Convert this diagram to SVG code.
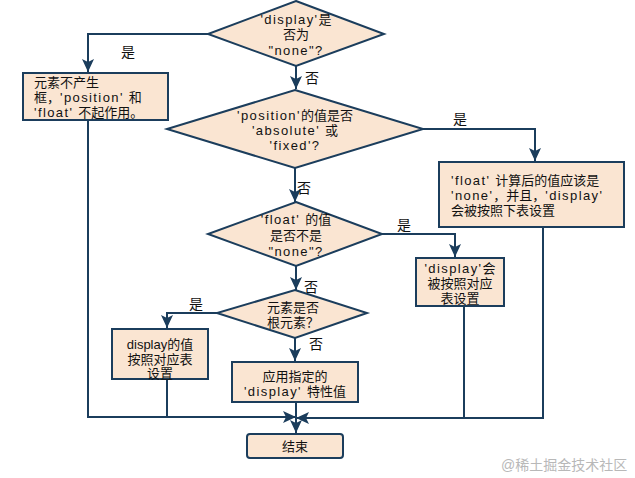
<svg xmlns="http://www.w3.org/2000/svg" width="635" height="478" viewBox="0 0 635 478">
<style>
.shape{fill:#fae5d2;stroke:#1b3d5c;stroke-width:2}
.conn{fill:none;stroke:#1b3d5c;stroke-width:2}
text{font-family:"Liberation Sans","Noto Sans CJK SC",sans-serif;font-size:13px;fill:#111}
.c{text-anchor:middle}
.l{letter-spacing:1.4px}
.lbl{font-size:14px}
.wm{font-size:14px;fill:#b8b8b8}
</style>
<defs>
<marker id="ah" markerUnits="userSpaceOnUse" markerWidth="14" markerHeight="12" refX="13" refY="6" orient="auto">
<path d="M0,0 L13,6 L0,12 L3,6 Z" fill="#1b3d5c"/>
</marker>
</defs>
<rect width="635" height="478" fill="#fff"/>
<g id="connectors">
<path class="conn" d="M208,34 H88 V72" marker-end="url(#ah)"/>
<path class="conn" d="M296,66 V89" marker-end="url(#ah)"/>
<path class="conn" d="M423,129 H535 V161" marker-end="url(#ah)"/>
<path class="conn" d="M295,168 V202" marker-end="url(#ah)"/>
<path class="conn" d="M382,234 H455 V257" marker-end="url(#ah)"/>
<path class="conn" d="M296,266 V290" marker-end="url(#ah)"/>
<path class="conn" d="M217,313 H167 V328" marker-end="url(#ah)"/>
<path class="conn" d="M295,338 V361" marker-end="url(#ah)"/>
<path class="conn" d="M88,120 V417 H296" marker-end="url(#ah)"/>
<path class="conn" d="M167,379 V417"/>
<path class="conn" d="M464,306 V418"/>
<path class="conn" d="M543,227 V418 H296" marker-end="url(#ah)"/>
<path class="conn" d="M296,402 V433" marker-end="url(#ah)"/>
<text class="lbl" x="121" y="57">是</text>
<text class="lbl" x="305" y="83">否</text>
<text class="lbl" x="453" y="124">是</text>
<text class="lbl" x="297" y="193">否</text>
<text class="lbl" x="397" y="230">是</text>
<text class="lbl" x="304" y="292">否</text>
<text class="lbl" x="189" y="309">是</text>
<text class="lbl" x="309" y="349">否</text>
</g>
<g id="d1">
<polygon class="shape" points="296,1 384,34 296,66 208,34"/>
<text class="c" x="296" y="24"><tspan class="l">'display'</tspan>是</text>
<text class="c" x="296" y="39">否为</text>
<text class="c l" x="296" y="55">"none"?</text>
</g>
<g id="box1">
<rect class="shape" x="23" y="73" width="145" height="47"/>
<text x="34" y="87">元素不产生</text>
<text x="34" y="102">框，<tspan class="l">'position' </tspan>和</text>
<text x="34" y="117"><tspan class="l">'float' </tspan>不起作用。</text>
</g>
<g id="d2">
<polygon class="shape" points="295,90 423,129 295,168 167,129"/>
<text class="c" x="295" y="120"><tspan class="l">'position'</tspan>的值是否</text>
<text class="c" x="295" y="135"><tspan class="l">'absolute' </tspan>或</text>
<text class="c l" x="295" y="150">'fixed'?</text>
</g>
<g id="box2">
<rect class="shape" x="439" y="162" width="185" height="65"/>
<text x="451" y="185"><tspan class="l">'float' </tspan>计算后的值应该是</text>
<text x="451" y="200"><tspan class="l">'none'</tspan>，并且，<tspan class="l">'display'</tspan></text>
<text x="451" y="215">会被按照下表设置</text>
</g>
<g id="d3">
<polygon class="shape" points="296,202 382,234 296,266 208,234"/>
<text class="c" x="296" y="224"><tspan class="l">'float' </tspan>的值</text>
<text class="c" x="296" y="240">是否不是</text>
<text class="c l" x="296" y="256">"none"?</text>
</g>
<g id="box3">
<rect class="shape" x="416" y="258" width="88" height="48"/>
<text class="c" x="460" y="273"><tspan class="l">'display'</tspan>会</text>
<text class="c" x="460" y="288">被按照对应</text>
<text class="c" x="460" y="303">表设置</text>
</g>
<g id="d4">
<polygon class="shape" points="295,290 367,313 295,338 217,313"/>
<text class="c" x="293" y="312">元素是否</text>
<text class="c" x="293" y="327">根元素？</text>
</g>
<g id="box4">
<rect class="shape" x="112" y="329" width="96" height="50"/>
<text class="c" x="160" y="349">display的值</text>
<text class="c" x="160" y="364">按照对应表</text>
<text class="c" x="160" y="378">设置</text>
</g>
<g id="box5">
<rect class="shape" x="232" y="362" width="126" height="40"/>
<text class="c" x="295" y="381">应用指定的</text>
<text class="c" x="295" y="396"><tspan class="l">'display' </tspan>特性值</text>
</g>
<g id="end">
<rect class="shape" x="247" y="434" width="96" height="24" rx="3"/>
<text class="c" x="295" y="451">结束</text>
</g>
<text class="wm" x="501" y="470">@稀土掘金技术社区</text>
</svg>
